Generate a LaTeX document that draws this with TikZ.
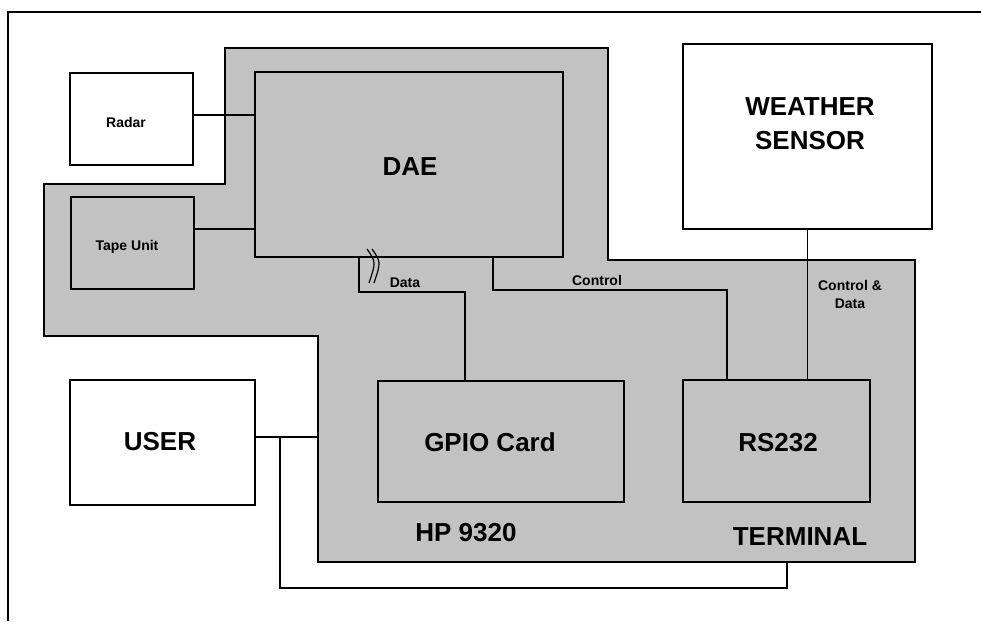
\documentclass[tikz,border=0pt]{standalone}
\usepackage{fontspec}
\setmainfont{Liberation Sans}
\definecolor{hpgray}{gray}{0.76}
\begin{document}
\begin{tikzpicture}[x=1pt,y=-1pt,
  box/.style={draw, line width=2pt, inner sep=0pt, anchor=center},
  conn/.style={line width=1.8pt},
  big/.style={font=\bfseries\fontsize{26}{34}\selectfont, inner sep=0pt, align=center},
  small/.style={font=\bfseries\fontsize{14}{18}\selectfont, inner sep=0pt, align=center}]
\useasboundingbox (0,0) rectangle (981,621);
% outer frame
\draw[conn] (8,621) -- (8,12) -- (981,12);
% HP 9320 terminal region
\filldraw[fill=hpgray, line width=2pt] (225,48) -- (608,48) -- (608,260) -- (915,260) -- (915,562) -- (318,562) -- (318,336) -- (44,336) -- (44,184) -- (225,184) -- cycle;
% boxes
\node[box, fill=hpgray, minimum width=308pt, minimum height=185pt] (dae) at (409,164.5) {};
\node[box, fill=white, minimum width=123pt, minimum height=92pt] (radar) at (131.5,119) {};
\node[box, fill=hpgray, minimum width=123pt, minimum height=92pt] (tape) at (132.5,243) {};
\node[box, fill=white, minimum width=249pt, minimum height=185pt] (ws) at (807.5,136.5) {};
\node[box, fill=hpgray, minimum width=246pt, minimum height=121pt] (gpio) at (501,441.5) {};
\node[box, fill=hpgray, minimum width=187pt, minimum height=122pt] (rs) at (776.5,441) {};
\node[box, fill=white, minimum width=185pt, minimum height=125pt] (user) at (162.5,442.5) {};
% texts
\node[big] (daet) at (410,167) {DAE};
\node[small] (radart) at (126,122) {Radar};
\node[small] (tapet) at (127,247) {Tape Unit};
\node[big] (wst) at (810,124) {WEATHER\\SENSOR};
\node[big] (gpiot) at (490,442) {GPIO Card};
\node[big] (rst) at (778,443) {RS232};
\node[big] (usert) at (160,442) {USER};
\node[big] (hpt) at (466,533) {HP 9320};
\node[big] (termt) at (800,537) {TERMINAL};
\node[small] (datat) at (405,283) {Data};
\node[small] (ctrlt) at (597,280) {Control};
\node[small] (cdt) at (850,294) {Control \&\\Data};
% connectors
\draw[conn] ([yshift=4pt]radar.east) -- ([yshift=4pt]radar.east -| dae.west);
\draw[conn] ([yshift=14pt]tape.east) -- ([yshift=14pt]tape.east -| dae.west);
\coordinate (d1) at (359,292);
\coordinate (d2) at (465,292);
\draw[conn] (dae.south -| d1) -- (d1) -- (d2) -- (gpio.north -| d2);
\coordinate (c1) at (493,290);
\coordinate (c2) at (727,290);
\draw[conn] (dae.south -| c1) -- (c1) -- (c2) -- (rs.north -| c2);
\draw[conn] (ws.south) -- (ws.south |- rs.north);
\coordinate (hpL) at (318,437);
\coordinate (uj) at (280,437);
\coordinate (ub1) at (280,588);
\coordinate (ub2) at (787,588);
\coordinate (hpB) at (787,562);
\draw[conn] (user.east |- hpL) -- (hpL);
\draw[conn] (uj) -- (ub1) -- (ub2) -- (hpB);
% bus break marks on the Data line
\draw[line width=1.2pt] (367,249) .. controls (376,262) .. (369,283);
\draw[line width=1.2pt] (372,249) .. controls (381,262) .. (374,283);
\end{tikzpicture}
\end{document}
